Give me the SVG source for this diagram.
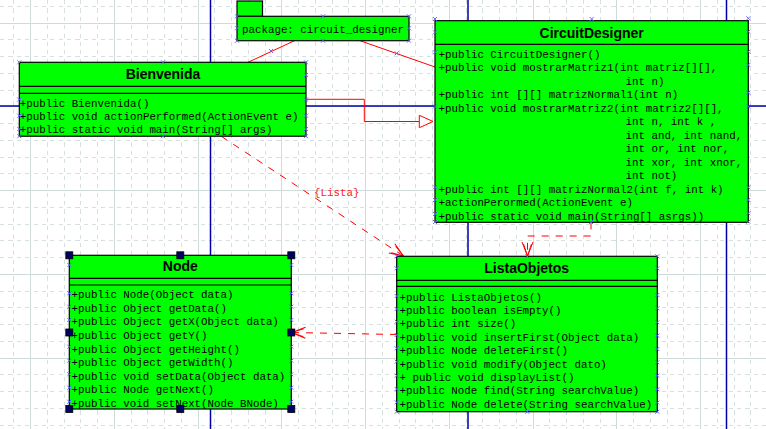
<svg xmlns="http://www.w3.org/2000/svg" width="766" height="429" viewBox="0 0 766 429">
<style>
.gd{fill:none;stroke:#d6e0e0;stroke-width:1;stroke-dasharray:4.2 4.175;shape-rendering:crispEdges}
.gs{fill:none;stroke:#d0dcdc;stroke-width:1;shape-rendering:crispEdges}
.pg{fill:none;stroke:#0000a8;stroke-width:1.5}
.box{fill:#00ff00;stroke:#000;stroke-width:1.2}
.sep{stroke:#000;stroke-width:1.2}
.ttl{font-family:"Liberation Sans",Arial,sans-serif;font-weight:bold;font-size:14px;fill:#000;text-anchor:middle}
.m{font-family:"Liberation Mono","Courier New",monospace;font-size:10.8px;fill:#000;white-space:pre}
.rl{fill:none;stroke:#ff0000;stroke-width:1}
.dl{fill:none;stroke:#ff0000;stroke-width:1;stroke-dasharray:7 7}
.lbl{font-family:"Liberation Mono","Courier New",monospace;font-size:10.8px;fill:#ff2020}
.xm{fill:none;stroke:#5a5aff;stroke-width:0.9}
.hd{fill:#000066;stroke:#000;stroke-width:0.8}
</style>
<defs>
<path id="xm" class="xm" d="M-2,-2L2,2M-2,2L2,-2"/>
<marker id="open" markerUnits="userSpaceOnUse" markerWidth="18" markerHeight="14" refX="15" refY="7" orient="auto" viewBox="0 0 18 14">
<path d="M1,1.5L15,7L1,12.5M3,3L15,7L3,11" fill="none" stroke="#ff0000" stroke-width="1"/>
</marker>
</defs>
<rect width="766" height="429" fill="#fff"/>
<g id="grid">
<path class="gd" d="M13.95,0V429M47.45,0V429M64.2,0V429M80.95,0V429M97.7,0V429M131.2,0V429M147.95,0V429M164.7,0V429M181.45,0V429M214.95,0V429M231.7,0V429M248.45,0V429M265.2,0V429M298.7,0V429M315.45,0V429M332.2,0V429M348.95,0V429M382.45,0V429M399.2,0V429M415.95,0V429M432.7,0V429M466.2,0V429M482.95,0V429M499.7,0V429M516.45,0V429M549.95,0V429M566.7,0V429M583.45,0V429M600.2,0V429M633.7,0V429M650.45,0V429M667.2,0V429M683.95,0V429M717.45,0V429M734.2,0V429M750.95,0V429"/>
<path class="gd" d="M0,6.45H766M0,39.95H766M0,56.7H766M0,73.45H766M0,90.2H766M0,123.7H766M0,140.45H766M0,157.2H766M0,173.95H766M0,207.45H766M0,224.2H766M0,240.95H766M0,257.7H766M0,291.2H766M0,307.95H766M0,324.7H766M0,341.45H766M0,374.95H766M0,391.7H766M0,408.45H766M0,425.2H766"/>
<path class="gs" d="M30.7,0V429M114.45,0V429M198.2,0V429M281.95,0V429M365.7,0V429M449.45,0V429M533.2,0V429M616.95,0V429M700.7,0V429M0,23.2H766M0,106.95H766M0,190.7H766M0,274.45H766M0,358.2H766"/>
<path class="pg" d="M210.5,0V429M468,0V429M726.5,0V429M0,106H766"/>
</g>
<g id="connectors">
<path class="rl" d="M294.5,40.7L248,62.3"/>
<path class="rl" d="M360,40.7L435,67"/>
<path class="rl" d="M306,99.3H364.3V121.5H419.3"/>
<polygon points="419.3,115.3 433,121.5 419.3,127.7" fill="#fff" stroke="#ff0000" stroke-width="1"/>
<path class="dl" d="M221.5,136.5L403.5,256" marker-end="url(#open)"/>
<text class="lbl" x="314" y="195.5">{Lista}</text>
<path class="dl" d="M591,222.3V236H527.5V256" marker-end="url(#open)"/>
<path class="dl" d="M397,334.5L291.5,332.5" marker-end="url(#open)"/>
<use href="#xm" x="271" y="51"/>
<use href="#xm" x="396.7" y="53.3"/>
</g>
<g id="package">
<rect class="box" x="237" y="1" width="25.5" height="15.3"/>
<rect class="box" x="237" y="16.3" width="172" height="24.4"/>
<text class="m" x="242" y="32.5">package: circuit_designer</text>
<use href="#xm" x="237" y="16.3"/><use href="#xm" x="323" y="16.3"/><use href="#xm" x="409" y="16.3"/>
<use href="#xm" x="237" y="28.3"/><use href="#xm" x="409" y="28.3"/>
<use href="#xm" x="237" y="40.7"/><use href="#xm" x="323" y="40.7"/><use href="#xm" x="409" y="40.7"/>
</g>
<g id="Bienvenida">
<rect class="box" x="19.3" y="62.3" width="286.7" height="73.9"/>
<path class="sep" d="M19.3,86.3H306M19.3,93.3H306"/>
<text class="ttl" x="163" y="79">Bienvenida</text>
<text class="m" x="19.8" y="106.5">+public Bienvenida()</text>
<text class="m" x="19.8" y="120">+public void actionPerformed(ActionEvent e)</text>
<text class="m" x="19.8" y="133.3">+public static void main(String[] args)</text>
<use href="#xm" x="19.3" y="62.3"/><use href="#xm" x="163" y="62.3"/><use href="#xm" x="306" y="62.3"/>
<use href="#xm" x="306" y="75"/>
<use href="#xm" x="19.3" y="99.5"/><use href="#xm" x="306" y="99.5"/>
<use href="#xm" x="19.3" y="115.7"/><use href="#xm" x="306" y="115.7"/>
<use href="#xm" x="19.3" y="129"/><use href="#xm" x="306" y="129"/>
<use href="#xm" x="19.3" y="136.2"/><use href="#xm" x="163" y="136.2"/><use href="#xm" x="306" y="136.2"/>
</g>
<g id="CircuitDesigner">
<rect class="box" x="435" y="20.7" width="313.3" height="201.6"/>
<path class="sep" d="M435,44.3H748.3"/>
<text class="ttl" x="591.7" y="37.7">CircuitDesigner</text>
<text class="m" x="438.5" y="57.5">+public CircuitDesigner()</text>
<text class="m" x="438.5" y="71">+public void mostrarMatriz1(int matriz[][],</text>
<text class="m" x="625.5" y="84.5">int n)</text>
<text class="m" x="438.5" y="98">+public int [][] matrizNormal1(int n)</text>
<text class="m" x="438.5" y="111.5">+public void mostrarMatriz2(int matriz2[][],</text>
<text class="m" x="625.5" y="125">int n, int k ,</text>
<text class="m" x="625.5" y="138.5">int and, int nand,</text>
<text class="m" x="625.5" y="152">int or, int nor,</text>
<text class="m" x="625.5" y="165.5">int xor, int xnor,</text>
<text class="m" x="625.5" y="179">int not)</text>
<text class="m" x="438.5" y="192.5">+public int [][] matrizNormal2(int f, int k)</text>
<text class="m" x="438.5" y="206">+actionPerormed(ActionEvent e)</text>
<text class="m" x="438.5" y="219.5">+public static void main(String[] asrgs))</text>
<use href="#xm" x="435" y="19"/><use href="#xm" x="591.7" y="19"/><use href="#xm" x="748.3" y="18.3"/>
<use href="#xm" x="435" y="32.3"/><use href="#xm" x="748.3" y="31.7"/>
<use href="#xm" x="435" y="52.3"/><use href="#xm" x="748.3" y="51.7"/>
<use href="#xm" x="748.3" y="65"/>
<use href="#xm" x="748.3" y="92.7"/>
<use href="#xm" x="435" y="106.5"/><use href="#xm" x="748.3" y="106.5"/>
<use href="#xm" x="435" y="187.3"/><use href="#xm" x="748.3" y="187.3"/>
<use href="#xm" x="435" y="200"/><use href="#xm" x="748.3" y="200"/>
<use href="#xm" x="435" y="214"/><use href="#xm" x="748.3" y="213.3"/>
<use href="#xm" x="435" y="222"/><use href="#xm" x="591" y="222"/><use href="#xm" x="748.3" y="221.7"/>
</g>
<g id="Node">
<rect class="box" x="69.3" y="255.3" width="222" height="153.7"/>
<path class="sep" d="M69.3,278.3H291.3M69.3,285H291.3"/>
<text class="ttl" x="180.3" y="270.5">Node</text>
<text class="m" x="71.5" y="298.3">+public Node(Object data)</text>
<text class="m" x="71.5" y="311.9">+public Object getData()</text>
<text class="m" x="71.5" y="325.4">+public Object getX(Object data)</text>
<text class="m" x="71.5" y="339">+public Object getY()</text>
<text class="m" x="71.5" y="352.5">+public Object getHeight()</text>
<text class="m" x="71.5" y="366">+public Object getWidth()</text>
<text class="m" x="71.5" y="379.6">+public void setData(Object data)</text>
<text class="m" x="71.5" y="393.1">+public Node getNext()</text>
<text class="m" x="71.5" y="406.7">+public void setNext(Node BNode)</text>
<use href="#xm" x="69.3" y="265"/><use href="#xm" x="291.3" y="265"/>
<use href="#xm" x="69.3" y="293.3"/><use href="#xm" x="291.3" y="293.3"/>
<use href="#xm" x="69.3" y="306.7"/><use href="#xm" x="291.3" y="306.7"/>
<use href="#xm" x="69.3" y="320"/><use href="#xm" x="291.3" y="320"/>
<use href="#xm" x="69.3" y="346.7"/><use href="#xm" x="291.3" y="346.7"/>
<use href="#xm" x="69.3" y="360.7"/><use href="#xm" x="291.3" y="360.7"/>
<use href="#xm" x="69.3" y="374.3"/><use href="#xm" x="291.3" y="374.3"/>
<use href="#xm" x="69.3" y="387.7"/><use href="#xm" x="291.3" y="387.7"/>
<use href="#xm" x="69.3" y="401.7"/><use href="#xm" x="291.3" y="401.7"/>
<rect class="hd" x="65.8" y="251.8" width="7" height="7"/>
<rect class="hd" x="176.8" y="251.8" width="7" height="7"/>
<rect class="hd" x="287.8" y="251.8" width="7" height="7"/>
<rect class="hd" x="65.8" y="329" width="7" height="7"/>
<rect class="hd" x="287.8" y="329" width="7" height="7"/>
<rect class="hd" x="65.8" y="405.5" width="7" height="7"/>
<rect class="hd" x="176.8" y="405.5" width="7" height="7"/>
<rect class="hd" x="287.8" y="405.5" width="7" height="7"/>
</g>
<g id="ListaObjetos">
<rect class="box" x="396.7" y="256.3" width="260.6" height="155.4"/>
<path class="sep" d="M396.7,280.3H657.3M396.7,286.3H657.3"/>
<text class="ttl" x="526.7" y="273.3">ListaObjetos</text>
<text class="m" x="399.5" y="300.7">+public ListaObjetos()</text>
<text class="m" x="399.5" y="314">+public boolean isEmpty()</text>
<text class="m" x="399.5" y="327.4">+public int size()</text>
<text class="m" x="399.5" y="340.8">+public void insertFirst(Object data)</text>
<text class="m" x="399.5" y="354.2">+public Node deleteFirst()</text>
<text class="m" x="399.5" y="367.6">+public void modify(Object dato)</text>
<text class="m" x="399.5" y="380.9">+ public void displayList()</text>
<text class="m" x="399.5" y="394.3">+public Node find(String searchValue)</text>
<text class="m" x="399.5" y="407.7">+public Node delete(String searchValue)</text>
<use href="#xm" x="396.7" y="256.3"/><use href="#xm" x="527.3" y="256.3"/><use href="#xm" x="657.3" y="256.3"/>
<use href="#xm" x="396.7" y="268.3"/><use href="#xm" x="657.3" y="268.3"/>
<use href="#xm" x="396.7" y="296"/><use href="#xm" x="657.3" y="295"/>
<use href="#xm" x="396.7" y="309"/><use href="#xm" x="657.3" y="308.3"/>
<use href="#xm" x="396.7" y="321.7"/><use href="#xm" x="657.3" y="322.3"/>
<use href="#xm" x="396.7" y="335"/><use href="#xm" x="657.3" y="335.7"/>
<use href="#xm" x="396.7" y="348.3"/><use href="#xm" x="657.3" y="349"/>
<use href="#xm" x="396.7" y="361.7"/><use href="#xm" x="657.3" y="362.3"/>
<use href="#xm" x="396.7" y="375.7"/><use href="#xm" x="657.3" y="375.7"/>
<use href="#xm" x="396.7" y="389"/><use href="#xm" x="657.3" y="389.3"/>
<use href="#xm" x="396.7" y="402.3"/><use href="#xm" x="657.3" y="402.7"/>
<use href="#xm" x="396.7" y="411.7"/><use href="#xm" x="527.3" y="411.7"/><use href="#xm" x="657.3" y="411.7"/>
</g>
</svg>
